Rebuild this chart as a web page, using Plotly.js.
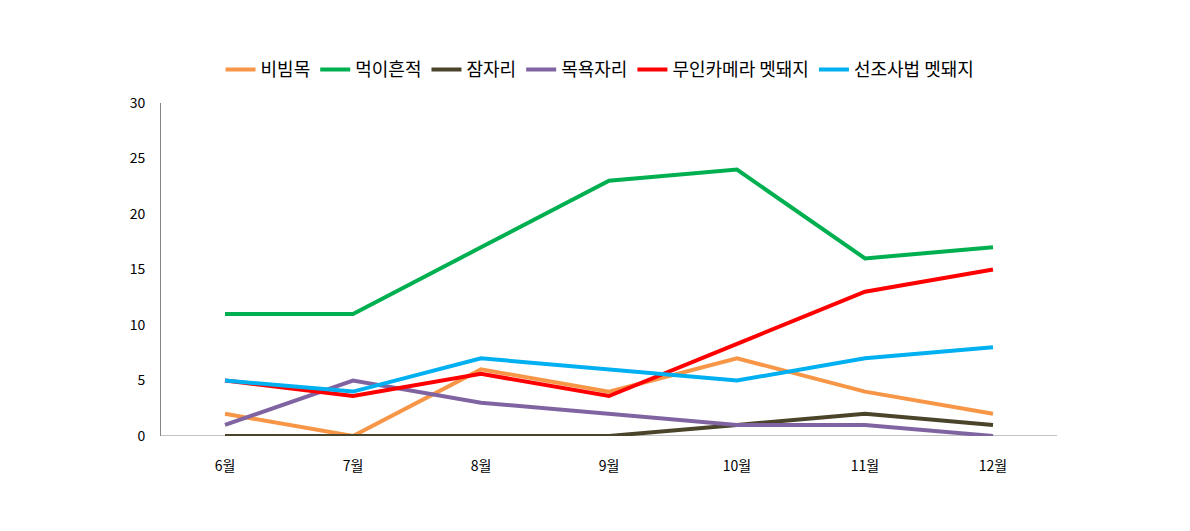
<!DOCTYPE html>
<html>
<head>
<meta charset="utf-8">
<script src="https://cdn.plot.ly/plotly-3.0.1.min.js"></script>
<style>html,body{margin:0;padding:0;background:#fff;}#chart{width:1190px;height:531px;}</style>
</head>
<body>
<div id="chart"></div>
<script>
const months = ["6월", "7월", "8월", "9월", "10월", "11월", "12월"];
const bibimmok = [2, 0, 6, 4, 7, 4, 2];
const meogiHeunjeok = [11, 11, 17, 23, 24, 16, 17];
const jamjari = [0, 0, 0, 0, 1, 2, 1];
const mogyokjari = [1, 5, 3, 2, 1, 1, 0];
const camera = [5, 3.6, 5.6, 3.6, 8.3, 13, 15];
const seonjo = [5, 4, 7, 6, 5, 7, 8];
const seriesNames = ["비빔목", "먹이흔적", "잠자리", "목욕자리", "무인카메라 멧돼지", "선조사법 멧돼지"];
const seriesData = [bibimmok, meogiHeunjeok, jamjari, mogyokjari, camera, seonjo];
const colors = ["#F79646", "#00B050", "#4A452A", "#8064A2", "#FF0000", "#00B0F0"];

const traces = seriesData.map((d, i) => ({
  type: "scatter",
  mode: "lines",
  x: months,
  y: d,
  name: seriesNames[i],
  line: {color: colors[i], width: 4}
}));

const layout = {
  width: 1190,
  height: 531,
  margin: {l: 161, r: 133, t: 103, b: 95},
  paper_bgcolor: "#fff",
  plot_bgcolor: "#fff",
  font: {family: "Noto Sans CJK KR, sans-serif", size: 13, color: "#000"},
  showlegend: true,
  legend: {
    orientation: "h",
    x: 0.49, xanchor: "center",
    y: 1.1, yanchor: "middle",
    font: {size: 18, color: "#000"},
    itemwidth: 30,
    tracegroupgap: 0
  },
  xaxis: {
    type: "category",
    range: [-0.5, 6.5],
    showgrid: false,
    zeroline: false,
    showline: false,
    ticks: "",
    ticklabelstandoff: 20,
    tickfont: {size: 14, color: "#000"}
  },
  yaxis: {
    range: [0, 30],
    dtick: 5,
    showgrid: false,
    zeroline: false,
    showline: true,
    linecolor: "#868686",
    linewidth: 1,
    ticks: "",
    ticklabelstandoff: 12,
    tickfont: {size: 14, color: "#000"}
  },
  shapes: [{
    type: "line", xref: "paper", yref: "y",
    x0: 0, x1: 1, y0: 0, y1: 0,
    line: {color: "#868686", width: 1},
    layer: "below"
  }]
};

Plotly.newPlot("chart", traces, layout, {displayModeBar: false, staticPlot: true});
</script>
</body>
</html>
